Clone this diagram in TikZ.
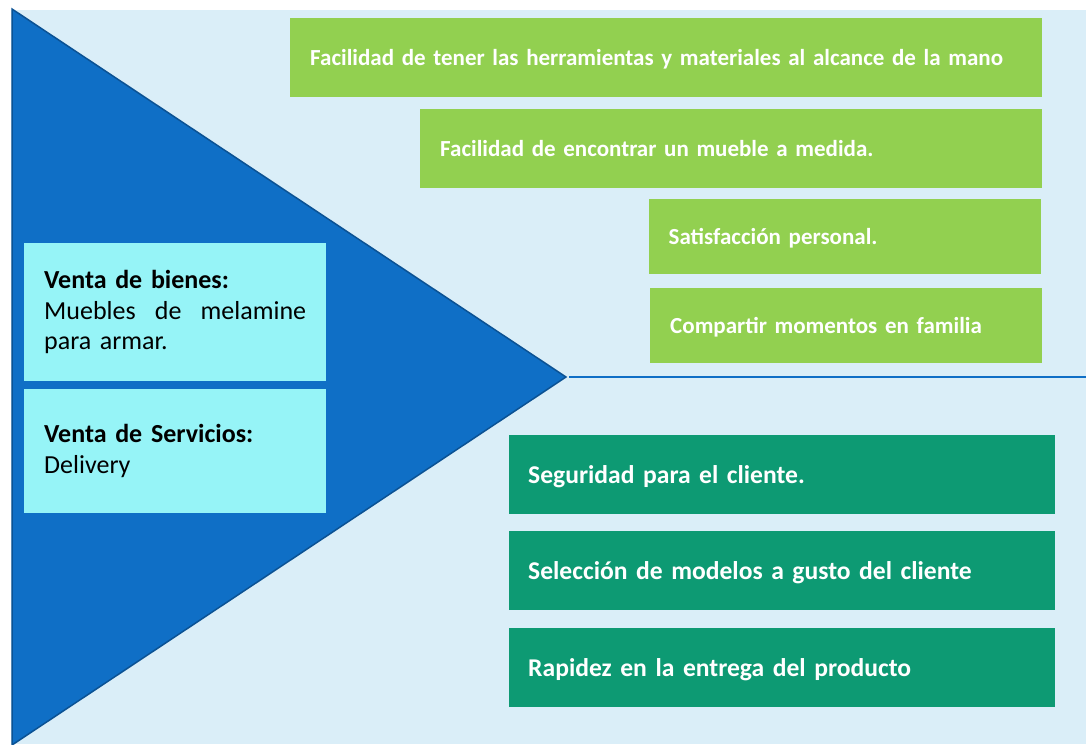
\documentclass[tikz,border=0pt]{standalone}
\usepackage{fontspec}
\setmainfont{Carlito}
\usetikzlibrary{positioning}

\definecolor{bgblue}{HTML}{DAEEF8}
\definecolor{triblue}{HTML}{0F6FC6}
\definecolor{triedge}{HTML}{0B5294}
\definecolor{leafgreen}{HTML}{92D050}
\definecolor{seagreen}{HTML}{0D9A73}
\definecolor{paleaqua}{HTML}{96F4F7}

\begin{document}
\begin{tikzpicture}[x=1pt, y=-1pt,
    gainbox/.style={rectangle, fill=leafgreen, text=white, anchor=north west, inner xsep=20pt, inner ysep=0pt, text depth=0pt, align=left, font=\fontsize{23}{27}\selectfont\bfseries},
    relievebox/.style={rectangle, fill=seagreen, text=white, anchor=north west, inner xsep=19pt, inner ysep=0pt, text depth=0pt, align=left, font=\fontsize{25.6}{30}\selectfont\bfseries},
    offerbox/.style={rectangle, fill=paleaqua, text=black, anchor=north west, inner xsep=20pt, inner ysep=0pt, align=left, font=\fontsize{26}{30.5}\selectfont}]
\useasboundingbox (0,0) rectangle (1086,744);
\fill[white] (0,0) rectangle (1086,744);
\fill[bgblue] (11,10) rectangle (1086,744);

% triangle
\draw[fill=triblue, draw=triedge, line width=1.5pt, line join=miter] (12,9) -- (566,377) -- (12,745) -- cycle;
\coordinate (apex) at (569,377);
\coordinate (rightend) at (1086,377);
\draw[triblue, line width=2.5pt] (apex) -- (rightend);

% gains
\node[gainbox, minimum width=752pt, minimum height=79pt, text width=712pt] (gainA) at (290,18) {Facilidad de tener las herramientas y materiales al alcance de la mano};
\node[gainbox, minimum width=622pt, minimum height=79pt, text width=582pt] (gainB) at (420,109) {Facilidad de encontrar un mueble a medida.};
\node[gainbox, minimum width=392pt, minimum height=75pt, text width=353pt, inner xsep=19.5pt] (gainC) at (649,199) {Satisfacción personal.};
\node[gainbox, minimum width=392pt, minimum height=75pt, text width=352pt] (gainD) at (650,288) {Compartir momentos en familia};

% pain relievers
\node[relievebox, minimum width=546pt, minimum height=79pt, text width=508pt] (relA) at (509,435) {Seguridad para el cliente.};
\node[relievebox, minimum width=546pt, minimum height=79pt, text width=508pt] (relB) at (509,531) {Selección de modelos a gusto del cliente};
\node[relievebox, minimum width=546pt, minimum height=79pt, text width=508pt] (relC) at (509,628) {Rapidez en la entrega del producto};

% products and services
\node[offerbox, minimum width=302pt, minimum height=138pt, text width=262pt] (goods) at (24,243) {\textbf{Venta de bienes:}\\ Muebles \hfill de \hfill melamine\\ para armar.};
\node[offerbox, minimum width=302pt, minimum height=124pt, text width=262pt] (services) at (24,389) {\textbf{Venta de Servicios:}\\ Delivery};
\end{tikzpicture}
\end{document}
